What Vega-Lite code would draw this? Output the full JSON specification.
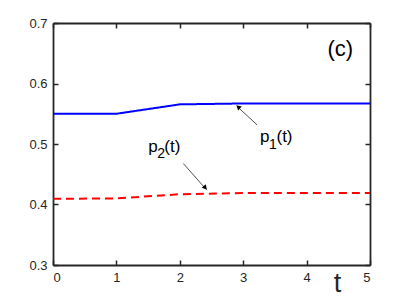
{
  "$schema": "https://vega.github.io/schema/vega-lite/v6.json",
  "width": 317,
  "height": 242,
  "autosize": "none",
  "padding": {"left": 53, "top": 23, "right": 39, "bottom": 33},
  "background": "white",
  "config": {
    "view": {"stroke": null},
    "font": "Liberation Sans",
    "axis": {
      "grid": false,
      "domainColor": "#262626",
      "domainWidth": 1.8,
      "tickColor": "#262626",
      "tickWidth": 1.5,
      "tickSize": -5,
      "labelColor": "#262626",
      "labelFont": "Liberation Sans",
      "labelFontSize": 13,
      "titleFont": "Liberation Sans",
      "titleColor": "#262626"
    }
  },
  "datasets": {
    "lines": [
      {"t": 0, "p": 0.55, "s": "p1"},
      {"t": 1, "p": 0.55, "s": "p1"},
      {"t": 2, "p": 0.5655, "s": "p1"},
      {"t": 3, "p": 0.567, "s": "p1"},
      {"t": 4, "p": 0.567, "s": "p1"},
      {"t": 5, "p": 0.567, "s": "p1"},
      {"t": 0, "p": 0.4095, "s": "p2"},
      {"t": 1, "p": 0.41, "s": "p2"},
      {"t": 2, "p": 0.417, "s": "p2"},
      {"t": 3, "p": 0.419, "s": "p2"},
      {"t": 4, "p": 0.419, "s": "p2"},
      {"t": 5, "p": 0.419, "s": "p2"}
    ],
    "arrows": [
      {"x": 3.218, "y": 0.5317, "x2": 2.9, "y2": 0.5625, "hx": 2.921, "hy": 0.5614, "ang": 312.6},
      {"x": 2.055, "y": 0.4678, "x2": 2.42, "y2": 0.4245, "hx": 2.402, "hy": 0.4277, "ang": 138}
    ],
    "main": [
      {"x": 3.265, "y": 0.504, "label": "p"},
      {"x": 3.525, "y": 0.504, "label": "(t)"},
      {"x": 1.503, "y": 0.4874, "label": "p"},
      {"x": 1.755, "y": 0.4874, "label": "(t)"}
    ],
    "sub": [
      {"x": 3.407, "y": 0.4919, "label": "1"},
      {"x": 1.643, "y": 0.4762, "label": "2"}
    ],
    "panel": [
      {"x": 4.33, "y": 0.645, "label": "(c)"}
    ]
  },
  "layer": [
    {
      "data": {"name": "lines"},
      "mark": {"type": "line", "strokeWidth": 2},
      "encoding": {
        "x": {
          "field": "t", "type": "quantitative",
          "scale": {"domain": [0, 5], "nice": false, "zero": false},
          "axis": {"orient": "bottom", "values": [0, 1, 2, 3, 4, 5], "format": "d", "labelPadding": 11, "title": "t", "titleFontSize": 27, "titleFontWeight": "normal", "titleX": 284, "titleY": 26, "titleBaseline": "alphabetic", "titleAlign": "center"}
        },
        "y": {
          "field": "p", "type": "quantitative",
          "scale": {"domain": [0.3, 0.7], "nice": false, "zero": false},
          "axis": {"orient": "left", "values": [0.3, 0.4, 0.5, 0.6, 0.7], "format": ".1f", "labelPadding": 11, "title": null}
        },
        "color": {"field": "s", "type": "nominal", "scale": {"domain": ["p1", "p2"], "range": ["#0000ff", "#ff0000"]}, "legend": null},
        "strokeDash": {"field": "s", "type": "nominal", "scale": {"domain": ["p1", "p2"], "range": [[1, 0], [8, 5]]}, "legend": null}
      }
    },
    {
      "data": {"name": "arrows"},
      "mark": {"type": "rule", "color": "#262626", "strokeWidth": 0.8},
      "encoding": {
        "x": {"field": "x", "type": "quantitative", "axis": {"orient": "top", "values": [0, 1, 2, 3, 4, 5], "labels": false, "title": null}},
        "y": {"field": "y", "type": "quantitative", "axis": {"orient": "right", "values": [0.3, 0.4, 0.5, 0.6, 0.7], "labels": false, "title": null}},
        "x2": {"field": "x2"},
        "y2": {"field": "y2"}
      }
    },
    {
      "data": {"name": "arrows"},
      "mark": {"type": "point", "shape": "triangle-up", "filled": true, "color": "#000000", "size": 30, "opacity": 1},
      "encoding": {
        "x": {"field": "hx", "type": "quantitative", "axis": null},
        "y": {"field": "hy", "type": "quantitative", "axis": null},
        "angle": {"field": "ang", "type": "quantitative", "scale": null}
      }
    },
    {
      "data": {"name": "main"},
      "mark": {"type": "text", "fontSize": 17, "align": "left", "baseline": "alphabetic", "color": "#000000"},
      "encoding": {
        "x": {"field": "x", "type": "quantitative", "axis": null},
        "y": {"field": "y", "type": "quantitative", "axis": null},
        "text": {"field": "label"}
      }
    },
    {
      "data": {"name": "sub"},
      "mark": {"type": "text", "fontSize": 14, "align": "left", "baseline": "alphabetic", "color": "#000000"},
      "encoding": {
        "x": {"field": "x", "type": "quantitative", "axis": null},
        "y": {"field": "y", "type": "quantitative", "axis": null},
        "text": {"field": "label"}
      }
    },
    {
      "data": {"name": "panel"},
      "mark": {"type": "text", "fontSize": 22, "align": "left", "baseline": "alphabetic", "color": "#000000"},
      "encoding": {
        "x": {"field": "x", "type": "quantitative", "axis": null},
        "y": {"field": "y", "type": "quantitative", "axis": null},
        "text": {"field": "label"}
      }
    }
  ],
  "resolve": {"axis": {"x": "independent", "y": "independent"}}
}
